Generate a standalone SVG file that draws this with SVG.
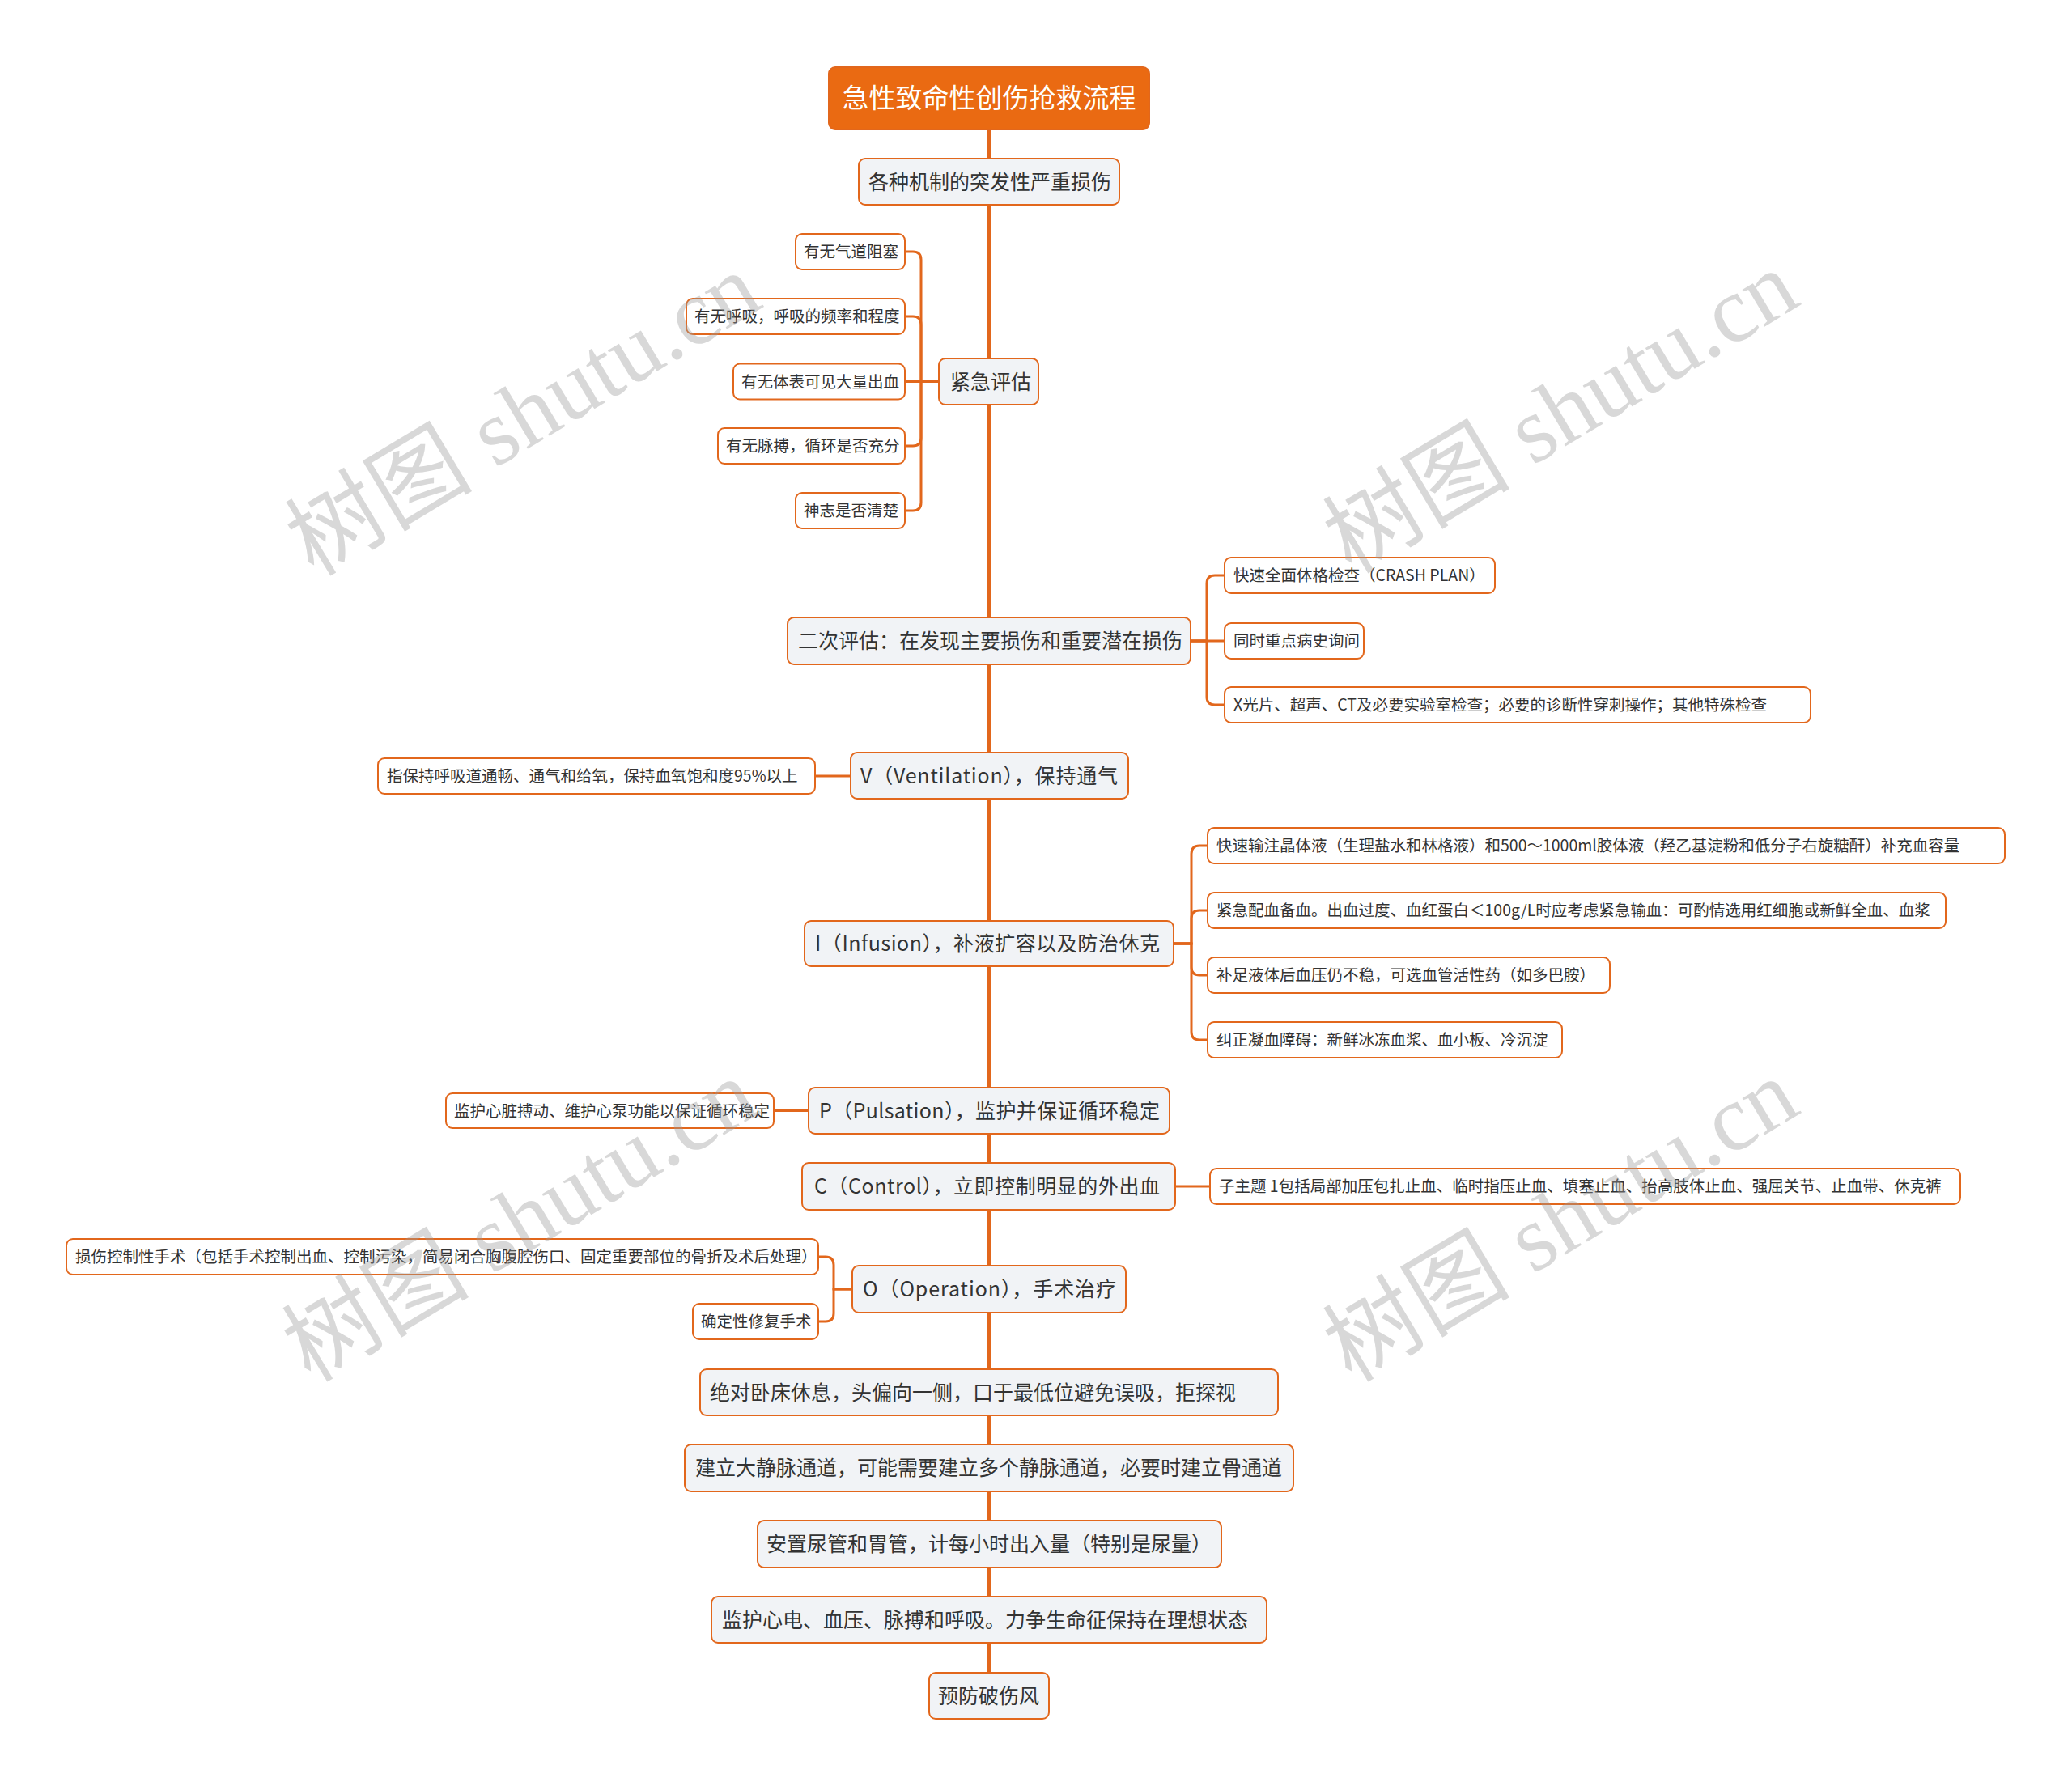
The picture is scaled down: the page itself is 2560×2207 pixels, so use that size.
<svg xmlns="http://www.w3.org/2000/svg" width="2560" height="2207" viewBox="0 0 2560 2207">
<style>
text{font-family:"Noto Sans CJK SC","Noto Sans",sans-serif;fill:#333333}
.main rect{fill:#F1F3F6;stroke:#E2671C;stroke-width:2}
.main text{font-size:25px}
.sub rect{fill:#FFFFFF;stroke:#E2671C;stroke-width:2}
.sub text{font-size:19.5px}
.root rect{fill:#EA6A12;stroke:#E2671C;stroke-width:2}
.root text{font-size:33px;fill:#FFFFFF;text-anchor:middle}
.trunk{stroke:#E2671C;stroke-width:4;fill:none}
.br{stroke:#E2671C;stroke-width:3;fill:none}
.wm{font-family:"Liberation Serif","Noto Sans CJK SC",serif;font-size:116px;fill:#9A9A9A;opacity:0.38;text-anchor:middle}
</style>
<g id="connectors">
<path class="trunk" d="M1222,160 V2067"/>
<path class="br" d="M1160,471.5 H1138 V321 Q1138,311 1128,311 H1118"/>
<path class="br" d="M1160,471.5 H1138 V401 Q1138,391 1128,391 H1118"/>
<path class="br" d="M1160,471.5 H1118"/>
<path class="br" d="M1160,471.5 H1138 V541 Q1138,551 1128,551 H1118"/>
<path class="br" d="M1160,471.5 H1138 V621 Q1138,631 1128,631 H1118"/>
<path class="br" d="M1471,792 H1491 V721 Q1491,711 1501,711 H1513"/>
<path class="br" d="M1471,792 H1513"/>
<path class="br" d="M1471,792 H1491 V861 Q1491,871 1501,871 H1513"/>
<path class="br" d="M1007,959 H1051"/>
<path class="br" d="M1450,1166 H1472 V1055 Q1472,1045 1482,1045 H1492"/>
<path class="br" d="M1450,1166 H1472 V1135 Q1472,1125 1482,1125 H1492"/>
<path class="br" d="M1450,1166 H1472 V1195 Q1472,1205 1482,1205 H1492"/>
<path class="br" d="M1450,1166 H1472 V1275 Q1472,1285 1482,1285 H1492"/>
<path class="br" d="M956,1372.5 H999"/>
<path class="br" d="M1452,1466 H1495"/>
<path class="br" d="M1053,1593 H1030 V1563 Q1030,1553 1020,1553 H1011"/>
<path class="br" d="M1053,1593 H1030 V1623 Q1030,1633 1020,1633 H1011"/>
</g>
<g id="root" class="root"><rect x="1024" y="83" width="396" height="77" rx="8"/><text x="1222" y="121.5" dy="0.36em">急性致命性创伤抢救流程</text></g>
<g id="n1" class="main"><rect x="1061" y="196" width="322" height="57" rx="8"/><text x="1073" y="224.5" dy="0.36em">各种机制的突发性严重损伤</text></g>
<g id="n2" class="main"><rect x="1160" y="443" width="123" height="57" rx="8"/><text x="1174" y="471.5" dy="0.36em">紧急评估</text></g>
<g id="n2a" class="sub"><rect x="983" y="289" width="135" height="44" rx="8"/><text x="993" y="311" dy="0.36em">有无气道阻塞</text></g>
<g id="n2b" class="sub"><rect x="848" y="369" width="270" height="44" rx="8"/><text x="858" y="391" dy="0.36em">有无呼吸，呼吸的频率和程度</text></g>
<g id="n2c" class="sub"><rect x="906" y="449.5" width="212" height="44" rx="8"/><text x="916" y="471.5" dy="0.36em">有无体表可见大量出血</text></g>
<g id="n2d" class="sub"><rect x="887" y="529" width="231" height="44" rx="8"/><text x="897" y="551" dy="0.36em">有无脉搏，循环是否充分</text></g>
<g id="n2e" class="sub"><rect x="983" y="609" width="135" height="44" rx="8"/><text x="993" y="631" dy="0.36em">神志是否清楚</text></g>
<g id="n3" class="main"><rect x="973" y="763" width="498" height="58" rx="8"/><text x="986" y="792" dy="0.36em">二次评估：在发现主要损伤和重要潜在损伤</text></g>
<g id="n3a" class="sub"><rect x="1513" y="689" width="334" height="44" rx="8"/><text x="1524" y="711" dy="0.36em">快速全面体格检查（CRASH PLAN）</text></g>
<g id="n3b" class="sub"><rect x="1513" y="770" width="172" height="44" rx="8"/><text x="1524" y="792" dy="0.36em">同时重点病史询问</text></g>
<g id="n3c" class="sub"><rect x="1513" y="849" width="724" height="44" rx="8"/><text x="1524" y="871" dy="0.36em">X光片、超声、CT及必要实验室检查；必要的诊断性穿刺操作；其他特殊检查</text></g>
<g id="n4" class="main"><rect x="1051" y="930" width="343" height="57" rx="8"/><text x="1063" y="958.5" dy="0.36em" textLength="318" lengthAdjust="spacing">V（Ventilation），保持通气</text></g>
<g id="n4a" class="sub"><rect x="467" y="937" width="540" height="44" rx="8"/><text x="478" y="959" dy="0.36em">指保持呼吸道通畅、通气和给氧，保持血氧饱和度95%以上</text></g>
<g id="n5" class="main"><rect x="994" y="1138" width="456" height="56" rx="8"/><text x="1007" y="1166" dy="0.36em" textLength="426" lengthAdjust="spacing">I（Infusion），补液扩容以及防治休克</text></g>
<g id="n5a" class="sub"><rect x="1492" y="1023" width="985" height="44" rx="8"/><text x="1503" y="1045" dy="0.36em">快速输注晶体液（生理盐水和林格液）和500～1000ml胶体液（羟乙基淀粉和低分子右旋糖酐）补充血容量</text></g>
<g id="n5b" class="sub"><rect x="1492" y="1103" width="912" height="44" rx="8"/><text x="1503" y="1125" dy="0.36em">紧急配血备血。出血过度、血红蛋白＜100g/L时应考虑紧急输血：可酌情选用红细胞或新鲜全血、血浆</text></g>
<g id="n5c" class="sub"><rect x="1492" y="1183" width="497" height="44" rx="8"/><text x="1503" y="1205" dy="0.36em">补足液体后血压仍不稳，可选血管活性药（如多巴胺）</text></g>
<g id="n5d" class="sub"><rect x="1492" y="1263" width="438" height="44" rx="8"/><text x="1503" y="1285" dy="0.36em">纠正凝血障碍：新鲜冰冻血浆、血小板、冷沉淀</text></g>
<g id="n6" class="main"><rect x="999" y="1344" width="446" height="57" rx="8"/><text x="1012" y="1372.5" dy="0.36em" textLength="421" lengthAdjust="spacing">P（Pulsation），监护并保证循环稳定</text></g>
<g id="n6a" class="sub"><rect x="551" y="1351" width="405" height="43" rx="8"/><text x="561" y="1372.5" dy="0.36em">监护心脏搏动、维护心泵功能以保证循环稳定</text></g>
<g id="n7" class="main"><rect x="991" y="1437" width="461" height="58" rx="8"/><text x="1006" y="1466" dy="0.36em" textLength="427" lengthAdjust="spacing">C（Control），立即控制明显的外出血</text></g>
<g id="n7a" class="sub"><rect x="1495" y="1444" width="927" height="44" rx="8"/><text x="1506" y="1466" dy="0.36em">子主题 1包括局部加压包扎止血、临时指压止血、填塞止血、抬高肢体止血、强屈关节、止血带、休克裤</text></g>
<g id="n8" class="main"><rect x="1053" y="1564" width="338" height="58" rx="8"/><text x="1066" y="1593" dy="0.36em" textLength="313" lengthAdjust="spacing">O（Operation），手术治疗</text></g>
<g id="n8a" class="sub"><rect x="82" y="1531" width="929" height="44" rx="8"/><text x="93" y="1553" dy="0.36em">损伤控制性手术（包括手术控制出血、控制污染，简易闭合胸腹腔伤口、固定重要部位的骨折及术后处理）</text></g>
<g id="n8b" class="sub"><rect x="856" y="1611" width="155" height="44" rx="8"/><text x="866" y="1633" dy="0.36em">确定性修复手术</text></g>
<g id="n9" class="main"><rect x="865" y="1692" width="714" height="57" rx="8"/><text x="877" y="1720.5" dy="0.36em">绝对卧床休息，头偏向一侧，口于最低位避免误吸，拒探视</text></g>
<g id="n10" class="main"><rect x="846" y="1785" width="752" height="58" rx="8"/><text x="859" y="1814" dy="0.36em">建立大静脉通道，可能需要建立多个静脉通道，必要时建立骨通道</text></g>
<g id="n11" class="main"><rect x="936" y="1879" width="573" height="58" rx="8"/><text x="947" y="1908" dy="0.36em">安置尿管和胃管，计每小时出入量（特别是尿量）</text></g>
<g id="n12" class="main"><rect x="879" y="1973" width="686" height="57" rx="8"/><text x="892" y="2001.5" dy="0.36em">监护心电、血压、脉搏和呼吸。力争生命征保持在理想状态</text></g>
<g id="n13" class="main"><rect x="1148" y="2067" width="148" height="57" rx="8"/><text x="1159" y="2095.5" dy="0.36em">预防破伤风</text></g>
<g id="watermark">
<text class="wm" transform="translate(648,515) rotate(-31)" y="36">树图 shutu.cn</text>
<text class="wm" transform="translate(1930,512) rotate(-31)" y="36">树图 shutu.cn</text>
<text class="wm" transform="translate(644,1511) rotate(-31)" y="36">树图 shutu.cn</text>
<text class="wm" transform="translate(1930,1511) rotate(-31)" y="36">树图 shutu.cn</text>
</g>
</svg>
